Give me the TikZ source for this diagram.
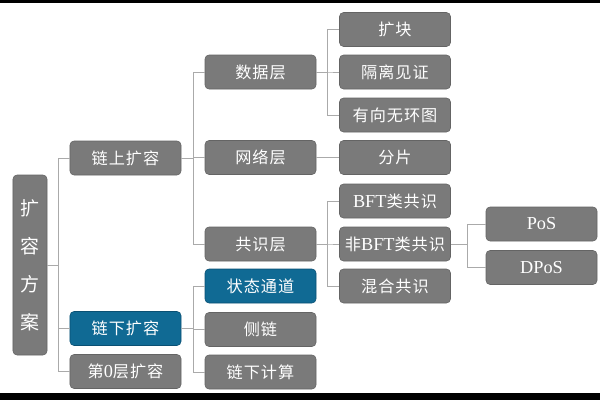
\documentclass[tikz,border=0pt]{standalone}
\usepackage{fontspec}
\setmainfont{Liberation Serif}
\newfontfamily\cjk[LetterSpace=6]{Noto Sans CJK SC}
\usetikzlibrary{positioning}
\definecolor{boxgray}{RGB}{122,122,122}
\definecolor{boxedge}{RGB}{100,100,100}
\definecolor{boxblue}{RGB}{16,106,148}
\definecolor{blueedge}{RGB}{10,80,115}
\definecolor{linkgray}{RGB}{170,170,170}
\newcommand{\lat}[1]{{\rmfamily\fontsize{13}{14}\selectfont #1}}

\begin{document}
\begin{tikzpicture}[x=0.25mm,y=-0.25mm,
  box/.style={draw=boxedge, fill=boxgray, rounded corners=1mm, text=white,
    minimum width=27.75mm, minimum height=8.5mm, inner sep=0pt,
    font=\cjk\fontsize{11.5}{14}\selectfont},
  hot/.style={box, draw=blueedge, fill=boxblue},
  link/.style={draw=linkgray, line width=0.6pt}]
\def\xa{125.5}
\def\xb{260.5}
\def\xc{395}
\def\xd{541.5}

% Frame
\useasboundingbox (0,0) rectangle (600,400);
\fill[black] (0,0) rectangle (600,2.5);
\fill[black] (0,393) rectangle (600,400);

% Root
\node[box, minimum width=8.5mm, minimum height=45mm, align=center,
  font=\cjk\fontsize{13.5}{27}\selectfont] (root) at (30,265) {扩\\容\\方\\案};

% Level 1
\node[box] (onchain) at (\xa,158) {链上扩容};
\node[hot] (offchain) at (\xa,328.5) {链下扩容};
\node[box] (layerzero) at (\xa,371.5) {第\lat{0}层扩容};

% Level 2
\node[box] (data) at (\xb,72) {数据层};
\node[box] (network) at (\xb,157.5) {网络层};
\node[box] (consensus) at (\xb,244) {共识层};
\node[hot] (channel) at (\xb,286) {状态通道};
\node[box] (sidechain) at (\xb,329.5) {侧链};
\node[box] (offcompute) at (\xb,372) {链下计算};

% Level 3
\node[box] (bigblock) at (\xc,29.5) {扩块};
\node[box] (segwit) at (\xc,72) {隔离见证};
\node[box] (dag) at (\xc,115) {有向无环图};
\node[box] (sharding) at (\xc,157.5) {分片};
\node[box] (bft) at (\xc,201) {\lat{BFT}类共识};
\node[box] (nonbft) at (\xc,244) {非\lat{BFT}类共识};
\node[box] (hybrid) at (\xc,286) {混合共识};

% Level 4
\node[box] (pos) at (\xd,224) {\lat{PoS}};
\node[box] (dpos) at (\xd,267.5) {\lat{DPoS}};

% Links
\foreach \c in {onchain,offchain,layerzero}
  \draw[link] (root.east) -- ++(11,0) |- (\c.west);
\foreach \c in {data,network,consensus}
  \draw[link] (onchain.east) -- ++(12,0) |- (\c.west);
\foreach \c in {channel,sidechain,offcompute}
  \draw[link] (offchain.east) -- ++(12,0) |- (\c.west);
\foreach \c in {bigblock,segwit,dag}
  \draw[link] (data.east) -- ++(11,0) |- (\c.west);
\draw[link] (network.east) -- (sharding.west);
\foreach \c in {bft,nonbft,hybrid}
  \draw[link] (consensus.east) -- ++(11,0) |- (\c.west);
\foreach \c in {pos,dpos}
  \draw[link] (nonbft.east) -- ++(17,0) |- (\c.west);
\end{tikzpicture}
\end{document}
